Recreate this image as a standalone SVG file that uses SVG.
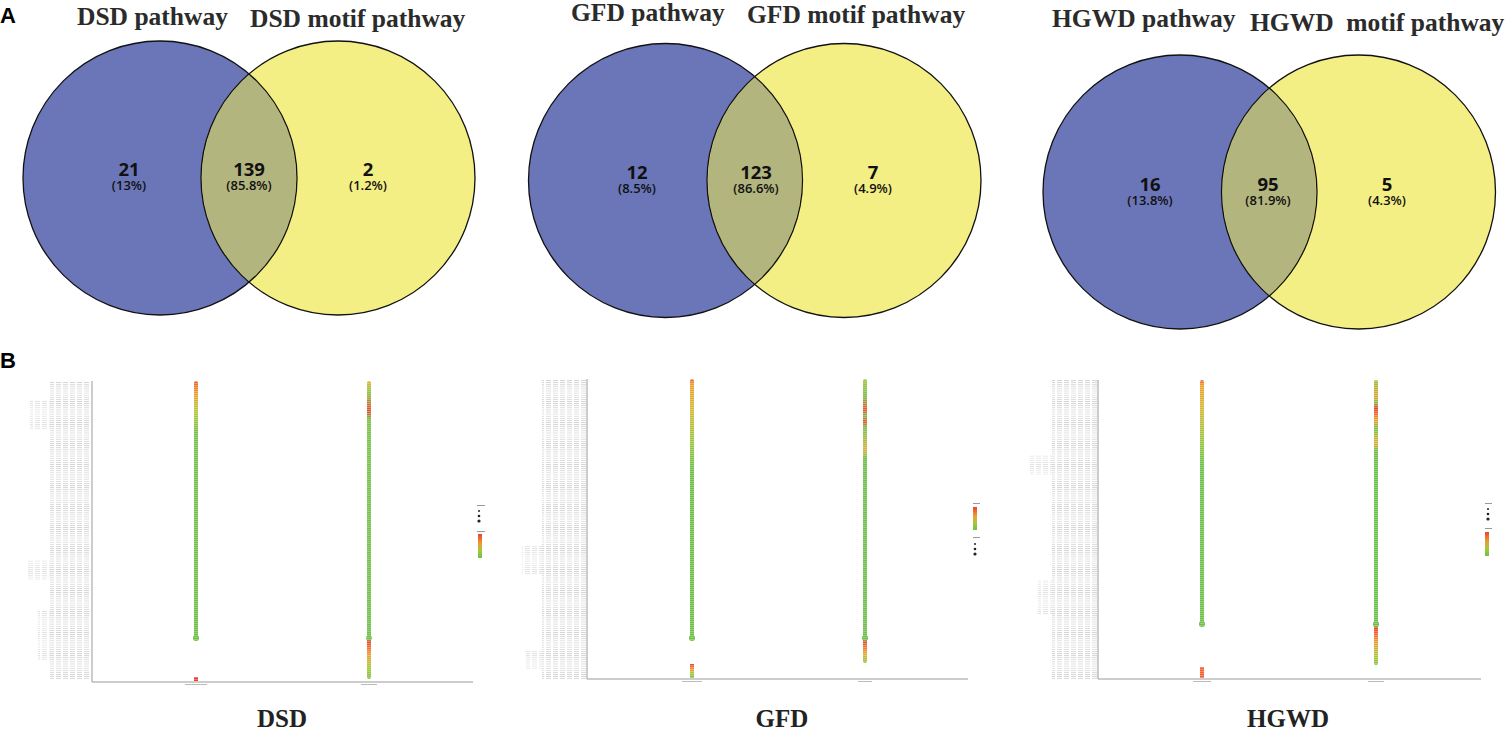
<svg xmlns="http://www.w3.org/2000/svg" width="1508" height="730" viewBox="0 0 1508 730">
<style>
.title{font-family:"Liberation Serif",serif;font-weight:bold;font-size:25.5px;fill:#2b2b2b;white-space:pre}
.big{font-family:"Liberation Serif",serif;font-weight:bold;font-size:25px;fill:#222;text-anchor:middle}
.panel{font-family:"Liberation Sans",sans-serif;font-weight:bold;font-size:22px;fill:#000}
.num{font-family:"Open Sans","Liberation Sans",sans-serif;font-weight:bold;font-size:18.5px;fill:#111;text-anchor:middle}
.pct{font-family:"Open Sans","Liberation Sans",sans-serif;font-weight:600;font-size:13px;fill:#111;text-anchor:middle}
.blue{fill:#6b76b8}
.yel{fill:#f4ef84}
.ov{fill:#b3b57f}
.edge{fill:none;stroke:#111;stroke-width:1.3}
.axis{stroke:#9a9a9a;stroke-width:1;fill:none}
.lab{fill:url(#lines)}
</style>
<defs>
<pattern id="lines" width="7" height="2.1" patternUnits="userSpaceOnUse">
<rect x="0" y="0" width="5" height="0.8" fill="#a8a8a8"/>
</pattern>
<pattern id="dots" width="4" height="2" patternUnits="userSpaceOnUse">
<rect x="0" y="1.4" width="4" height="0.6" fill="#fff"/>
</pattern>
<linearGradient id="colA" x1="0" y1="0" x2="0" y2="1">
<stop offset="0" stop-color="#f05a28"/>
<stop offset="0.05" stop-color="#e9a030"/>
<stop offset="0.12" stop-color="#b4c83a"/>
<stop offset="0.2" stop-color="#74c048"/>
<stop offset="1" stop-color="#6cbf46"/>
</linearGradient>
<linearGradient id="colB" x1="0" y1="0" x2="0" y2="1">
<stop offset="0" stop-color="#e4b030"/>
<stop offset="0.04" stop-color="#8cc43e"/>
<stop offset="0.1" stop-color="#e0503a"/>
<stop offset="0.13" stop-color="#78c046"/>
<stop offset="0.86" stop-color="#6cbf46"/>
<stop offset="0.87" stop-color="#f03c2c"/>
<stop offset="0.92" stop-color="#e9a030"/>
<stop offset="0.96" stop-color="#a8c63c"/>
<stop offset="1" stop-color="#7cc046"/>
</linearGradient>
<linearGradient id="colC" x1="0" y1="0" x2="0" y2="1">
<stop offset="0" stop-color="#f05a28"/>
<stop offset="0.02" stop-color="#e9a030"/>
<stop offset="0.12" stop-color="#d2b838"/>
<stop offset="0.25" stop-color="#98c640"/>
<stop offset="0.35" stop-color="#6cbf46"/>
<stop offset="1" stop-color="#6cbf46"/>
</linearGradient>
<linearGradient id="colD" x1="0" y1="0" x2="0" y2="1">
<stop offset="0" stop-color="#a0c43e"/>
<stop offset="0.06" stop-color="#78c046"/>
<stop offset="0.11" stop-color="#f0502c"/>
<stop offset="0.13" stop-color="#78c046"/>
<stop offset="0.15" stop-color="#f0502c"/>
<stop offset="0.17" stop-color="#78c046"/>
<stop offset="0.25" stop-color="#d8b038"/>
<stop offset="0.28" stop-color="#6cbf46"/>
<stop offset="0.91" stop-color="#6cbf46"/>
<stop offset="0.92" stop-color="#f03c2c"/>
<stop offset="0.97" stop-color="#e4b030"/>
<stop offset="1" stop-color="#8cc43e"/>
</linearGradient>
<linearGradient id="colE" x1="0" y1="0" x2="0" y2="1">
<stop offset="0" stop-color="#8cc43e"/>
<stop offset="0.06" stop-color="#e9a030"/>
<stop offset="0.08" stop-color="#78c046"/>
<stop offset="0.1" stop-color="#f03c2c"/>
<stop offset="0.14" stop-color="#e9a030"/>
<stop offset="0.17" stop-color="#78c046"/>
<stop offset="0.22" stop-color="#e4b030"/>
<stop offset="0.25" stop-color="#6cbf46"/>
<stop offset="0.86" stop-color="#6cbf46"/>
<stop offset="0.87" stop-color="#f03c2c"/>
<stop offset="0.92" stop-color="#e9a030"/>
<stop offset="0.97" stop-color="#b0c63c"/>
<stop offset="1" stop-color="#7cc046"/>
</linearGradient>
<linearGradient id="legG" x1="0" y1="0" x2="0" y2="1">
<stop offset="0" stop-color="#f0402c"/>
<stop offset="0.4" stop-color="#e9a030"/>
<stop offset="0.7" stop-color="#a8c83c"/>
<stop offset="1" stop-color="#6cc046"/>
</linearGradient>
</defs>
<rect width="1508" height="730" fill="#fff"/>

<text class="panel" x="0" y="23">A</text>
<text class="panel" x="0" y="368">B</text>

<!-- Venn DSD -->
<g id="venn-dsd">
<text class="title" x="77" y="25">DSD pathway</text>
<text class="title" x="250" y="27">DSD motif pathway</text>
<circle class="blue" cx="160" cy="178" r="137"/>
<circle class="yel" cx="338" cy="178" r="137"/>
<path class="ov" d="M249,74.5 A137,137 0 0 1 249,281.5 A137,137 0 0 1 249,74.5 Z"/>
<circle class="edge" cx="160" cy="178" r="137"/>
<circle class="edge" cx="338" cy="178" r="137"/>
<text class="num" x="129" y="176">21</text>
<text class="pct" x="129" y="190">(13%)</text>
<text class="num" x="249" y="176">139</text>
<text class="pct" x="249" y="190">(85.8%)</text>
<text class="num" x="368" y="176">2</text>
<text class="pct" x="368" y="190">(1.2%)</text>
</g>

<!-- Venn GFD -->
<g id="venn-gfd">
<text class="title" x="571" y="21">GFD pathway</text>
<text class="title" x="747" y="23">GFD motif pathway</text>
<circle class="blue" cx="665.5" cy="180.5" r="137"/>
<circle class="yel" cx="844" cy="180.5" r="137"/>
<path class="ov" d="M754.75,77.3 A137,137 0 0 1 754.75,283.7 A137,137 0 0 1 754.75,77.3 Z"/>
<circle class="edge" cx="665.5" cy="180.5" r="137"/>
<circle class="edge" cx="844" cy="180.5" r="137"/>
<text class="num" x="637" y="179">12</text>
<text class="pct" x="637" y="193">(8.5%)</text>
<text class="num" x="756" y="179">123</text>
<text class="pct" x="756" y="193">(86.6%)</text>
<text class="num" x="873" y="179">7</text>
<text class="pct" x="873" y="193">(4.9%)</text>
</g>

<!-- Venn HGWD -->
<g id="venn-hgwd">
<text class="title" x="1052" y="27">HGWD pathway</text>
<text class="title" x="1250" y="31">HGWD  motif pathway</text>
<circle class="blue" cx="1180" cy="192" r="137"/>
<circle class="yel" cx="1358.5" cy="192" r="137"/>
<path class="ov" d="M1269.25,88.8 A137,137 0 0 1 1269.25,295.2 A137,137 0 0 1 1269.25,88.8 Z"/>
<circle class="edge" cx="1180" cy="192" r="137"/>
<circle class="edge" cx="1358.5" cy="192" r="137"/>
<text class="num" x="1150" y="191">16</text>
<text class="pct" x="1150" y="205">(13.8%)</text>
<text class="num" x="1268" y="191">95</text>
<text class="pct" x="1268" y="205">(81.9%)</text>
<text class="num" x="1387" y="191">5</text>
<text class="pct" x="1387" y="205">(4.3%)</text>
</g>

<!-- Dot plot DSD -->
<g id="dot-dsd">
<rect class="lab" x="50" y="381" width="40" height="298" opacity="0.5"/>
<rect class="lab" x="30" y="400" width="20" height="30" opacity="0.35"/>
<rect class="lab" x="26" y="560" width="24" height="20" opacity="0.35"/>
<rect class="lab" x="38" y="610" width="12" height="50" opacity="0.35"/>
<path class="axis" d="M92,381 V682 H473"/>
<rect x="194" y="381" width="4" height="257" rx="2" fill="url(#colA)"/>
<circle cx="196" cy="638" r="3" fill="#6cbf46"/>
<rect x="194" y="677" width="4" height="4" fill="#f03c2c"/>
<rect x="367" y="381" width="4" height="298" rx="2" fill="url(#colB)"/>
<circle cx="369" cy="638" r="2.8" fill="#6cbf46"/>
<rect x="185" y="684" width="22" height="1" fill="#bbb"/>
<rect x="361" y="684" width="16" height="1" fill="#bbb"/>
<rect x="477" y="505" width="8" height="1" fill="#999"/>
<circle cx="479" cy="511" r="1" fill="#222"/>
<circle cx="479" cy="516" r="1.3" fill="#222"/>
<circle cx="479" cy="521" r="1.6" fill="#222"/>
<rect x="477" y="531" width="8" height="1" fill="#999"/>
<rect x="478" y="534" width="4" height="24" fill="url(#legG)"/>
<text class="big" x="282" y="727">DSD</text>
</g>

<!-- Dot plot GFD -->
<g id="dot-gfd">
<rect class="lab" x="542" y="379" width="44" height="300" opacity="0.5"/>
<rect class="lab" x="522" y="545" width="20" height="30" opacity="0.35"/>
<rect class="lab" x="526" y="650" width="16" height="20" opacity="0.35"/>
<path class="axis" d="M587,379 V679 H968"/>
<rect x="690" y="379" width="4" height="259" rx="2" fill="url(#colC)"/>
<circle cx="692" cy="638" r="3" fill="#6cbf46"/>
<rect x="690" y="664" width="4" height="14" fill="url(#legG)"/>
<rect x="863" y="379" width="4" height="284" rx="2" fill="url(#colD)"/>
<circle cx="865" cy="638" r="3" fill="#6cbf46"/>
<rect x="682" y="681" width="20" height="1" fill="#bbb"/>
<rect x="858" y="681" width="14" height="1" fill="#bbb"/>
<rect x="973" y="503" width="7" height="1" fill="#999"/>
<rect x="973" y="507" width="4" height="23" fill="url(#legG)"/>
<rect x="973" y="537" width="7" height="1" fill="#999"/>
<circle cx="975" cy="544" r="1" fill="#222"/>
<circle cx="975" cy="549" r="1.3" fill="#222"/>
<circle cx="975" cy="554" r="1.6" fill="#222"/>
<text class="big" x="782" y="727">GFD</text>
</g>

<!-- Dot plot HGWD -->
<g id="dot-hgwd">
<rect class="lab" x="1052" y="380" width="45" height="299" opacity="0.5"/>
<rect class="lab" x="1030" y="455" width="22" height="20" opacity="0.35"/>
<rect class="lab" x="1038" y="580" width="14" height="35" opacity="0.35"/>
<path class="axis" d="M1098,380 V679 H1481"/>
<rect x="1200" y="380" width="4" height="244" rx="2" fill="url(#colC)"/>
<circle cx="1202" cy="624" r="3" fill="#6cbf46"/>
<rect x="1200" y="667" width="4" height="11" fill="#f06030"/>
<rect x="1374" y="380" width="4" height="285" rx="2" fill="url(#colE)"/>
<circle cx="1376" cy="624" r="3" fill="#6cbf46"/>
<rect x="1193" y="681" width="18" height="1" fill="#bbb"/>
<rect x="1368" y="681" width="16" height="1" fill="#bbb"/>
<rect x="1485" y="503" width="7" height="1" fill="#999"/>
<circle cx="1488" cy="509" r="1" fill="#222"/>
<circle cx="1488" cy="514" r="1.3" fill="#222"/>
<circle cx="1488" cy="519" r="1.6" fill="#222"/>
<rect x="1485" y="528" width="7" height="1" fill="#999"/>
<rect x="1485" y="532" width="4" height="24" fill="url(#legG)"/>
<text class="big" x="1288" y="727">HGWD</text>
</g>

<!-- dotted texture over columns -->
<g id="texture" fill="url(#dots)" opacity="0.5">
<rect x="194" y="381" width="4" height="300"/>
<rect x="367" y="381" width="4" height="298"/>
<rect x="690" y="379" width="4" height="299"/>
<rect x="863" y="379" width="4" height="284"/>
<rect x="1200" y="380" width="4" height="298"/>
<rect x="1374" y="380" width="4" height="285"/>
</g>
</svg>
